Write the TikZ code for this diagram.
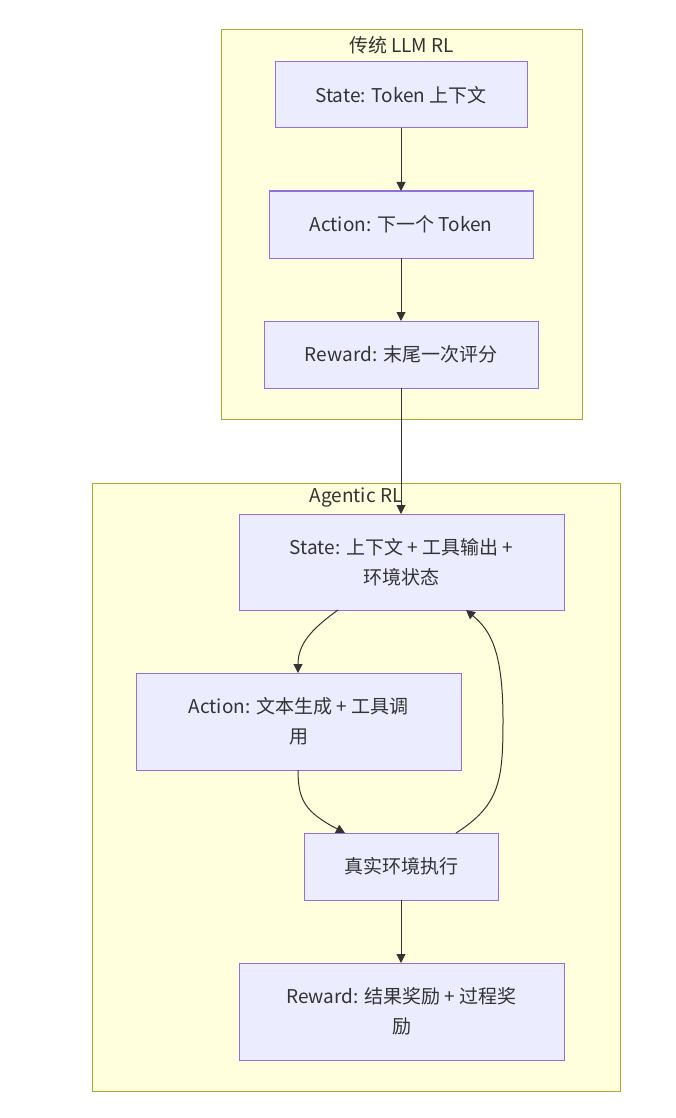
\documentclass[tikz,border=0pt]{standalone}
\usepackage{fontspec}
\setmainfont{Noto Sans CJK SC}
\usetikzlibrary{arrows.meta}
\definecolor{clfill}{HTML}{FFFFDE}
\definecolor{clline}{HTML}{AAAA33}
\definecolor{ndfill}{HTML}{ECECFF}
\definecolor{ndline}{HTML}{9370DB}
\definecolor{txt}{HTML}{333333}
\begin{document}
\begin{tikzpicture}[x=1pt,y=-1pt,
  cluster/.style={draw=clline,fill=clfill,line width=1pt},
  box/.style={draw=ndline,fill=ndfill,line width=1pt},
  lbl/.style={text=txt,font=\fontsize{19}{30}\selectfont,align=center,inner sep=0pt},
  edge/.style={draw=txt,line width=1pt,-{Triangle[length=9pt,width=9pt]}}]
\useasboundingbox (0,0) rectangle (675,1118);
% clusters
\draw[cluster] (221,30) rectangle (582,419);
\node[lbl] (t1) at (401.5,45) {传统 LLM RL};
\draw[cluster] (92,483) rectangle (620,1091);
\node[lbl] (t2) at (356,498) {Agentic RL};
% top nodes
\draw[box] (275,62) rectangle (527,128);
\node[lbl] (s1) at (401,95) {State: Token 上下文};
\coordinate (s1t) at (401,62); \coordinate (s1b) at (401,128);
\draw[box] (269,191) rectangle (533,258);
\node[lbl] (a1) at (401,224.5) {Action: 下一个 Token};
\coordinate (a1t) at (401,191); \coordinate (a1b) at (401,258);
\draw[box] (264,321) rectangle (538,388);
\node[lbl] (r1) at (401,354.5) {Reward: 末尾一次评分};
\coordinate (r1t) at (401,321); \coordinate (r1b) at (401,388);
% bottom nodes
\draw[box] (239,514) rectangle (564,610);
\node[lbl] (s2) at (401.5,562) {State: 上下文 + 工具输出 +\\环境状态};
\coordinate (s2t) at (401,514);
\coordinate (s2bl) at (338,610);
\coordinate (s2br) at (466,610);
\draw[box] (136,673) rectangle (461,770);
\node[lbl] (a2) at (298.5,721.5) {Action: 文本生成 + 工具调\\用};
\coordinate (a2t) at (298,673); \coordinate (a2b) at (298,770);
\draw[box] (304,833) rectangle (498,900);
\node[lbl] (e2) at (401,866.5) {真实环境执行};
\coordinate (e2tl) at (345,833); \coordinate (e2tr) at (456,833);
\coordinate (e2b) at (401,900);
\draw[box] (239,963) rectangle (564,1060);
\node[lbl] (r2) at (401.5,1011.5) {Reward: 结果奖励 + 过程奖\\励};
\coordinate (r2t) at (401,963);
% edges
\draw[edge] (s1b) -- (a1t);
\draw[edge] (a1b) -- (r1t);
\draw[edge] (r1b) -- (s2t);
\draw[edge] (s2bl) .. controls (310,630) and (298,645) .. (a2t);
\draw[edge] (a2b) .. controls (298,800) and (305,812) .. (e2tl);
\draw[edge] (e2tr) .. controls (500,805) and (503,780) .. (503,720) .. controls (503,650) and (490,630) .. (s2br);
\draw[edge] (e2b) -- (r2t);
\end{tikzpicture}
\end{document}
